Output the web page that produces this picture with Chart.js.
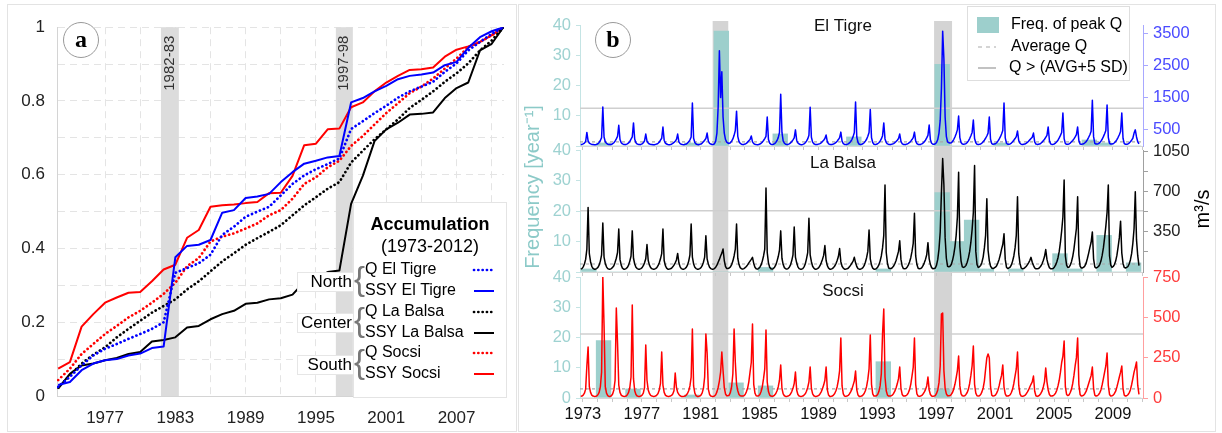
<!DOCTYPE html>
<html>
<head>
<meta charset="utf-8">
<title>Accumulation and peak discharge</title>
<script src="https://cdn.jsdelivr.net/npm/chart.js@4.4.1/dist/chart.umd.min.js"></script>
<style>
	body { margin: 0; background: #fff; }
	#page { position: relative; width: 1222px; height: 433px; overflow: hidden; }
	.frame { position: absolute; border: 1.5px solid #e3e3e3; box-sizing: border-box; }
	canvas { position: absolute; }
</style>
</head>
<body>
<div id="page">
	<div class="frame" style="left:7px;top:4px;width:510px;height:428px"></div>
	<div class="frame" style="left:518px;top:4px;width:698px;height:428px"></div>
	<canvas id="accChart" width="507" height="425" style="left:8px;top:5px"></canvas>
	<canvas id="tigreChart" width="693" height="423" style="left:520px;top:5px"></canvas>
	<canvas id="balsaChart" width="693" height="423" style="left:520px;top:5px"></canvas>
	<canvas id="socsiChart" width="693" height="423" style="left:520px;top:5px"></canvas>
</div>
<script>
/* global Chart */
( function () {
	'use strict';

	// Panel a: normalised accumulation, one value per year
	const accYears = [ 1973, 1974, 1975, 1976, 1977, 1978, 1979, 1980, 1981, 1982, 1983, 1984, 1985, 1986, 1987, 1988, 1989, 1990, 1991, 1992, 1993, 1994, 1995, 1996, 1997, 1998, 1999, 2000, 2001, 2002, 2003, 2004, 2005, 2006, 2007, 2008, 2009, 2010, 2011 ];
	const qTigre = [ 0.025, 0.052, 0.083, 0.11, 0.128, 0.141, 0.155, 0.168, 0.182, 0.2, 0.334, 0.347, 0.36, 0.383, 0.437, 0.459, 0.486, 0.5, 0.513, 0.544, 0.575, 0.598, 0.615, 0.629, 0.644, 0.724, 0.745, 0.767, 0.787, 0.809, 0.826, 0.839, 0.852, 0.879, 0.902, 0.937, 0.96, 0.982, 1 ];
	const ssyTigre = [ 0.03, 0.038, 0.07, 0.088, 0.097, 0.1, 0.11, 0.115, 0.13, 0.134, 0.376, 0.407, 0.41, 0.423, 0.497, 0.504, 0.537, 0.541, 0.548, 0.58, 0.607, 0.63, 0.638, 0.647, 0.651, 0.796, 0.808, 0.826, 0.841, 0.859, 0.868, 0.872, 0.877, 0.897, 0.906, 0.944, 0.973, 0.989, 1 ];
	const qBalsa = [ 0.023, 0.056, 0.088, 0.112, 0.132, 0.159, 0.182, 0.204, 0.226, 0.244, 0.262, 0.289, 0.311, 0.338, 0.365, 0.387, 0.41, 0.428, 0.445, 0.463, 0.49, 0.517, 0.539, 0.562, 0.58, 0.633, 0.665, 0.696, 0.723, 0.75, 0.781, 0.803, 0.826, 0.852, 0.875, 0.902, 0.937, 0.964, 1 ];
	const ssyBalsa = [ 0.02, 0.06, 0.083, 0.088, 0.097, 0.103, 0.114, 0.119, 0.148, 0.152, 0.159, 0.186, 0.19, 0.208, 0.222, 0.231, 0.25, 0.253, 0.262, 0.265, 0.275, 0.309, 0.32, 0.336, 0.34, 0.521, 0.597, 0.691, 0.723, 0.741, 0.763, 0.765, 0.769, 0.808, 0.835, 0.85, 0.937, 0.955, 1 ];
	const qSocsi = [ 0.043, 0.074, 0.114, 0.141, 0.168, 0.19, 0.213, 0.231, 0.253, 0.277, 0.307, 0.352, 0.374, 0.419, 0.432, 0.441, 0.454, 0.468, 0.49, 0.504, 0.535, 0.575, 0.593, 0.62, 0.638, 0.678, 0.705, 0.736, 0.767, 0.794, 0.821, 0.839, 0.861, 0.888, 0.915, 0.946, 0.96, 0.978, 1 ];
	const ssySocsi = [ 0.074, 0.092, 0.188, 0.222, 0.253, 0.267, 0.28, 0.282, 0.311, 0.343, 0.356, 0.429, 0.45, 0.513, 0.517, 0.519, 0.523, 0.526, 0.55, 0.551, 0.597, 0.68, 0.684, 0.723, 0.725, 0.783, 0.796, 0.826, 0.85, 0.868, 0.884, 0.886, 0.891, 0.92, 0.939, 0.948, 0.96, 0.978, 1 ];
	const accGridYears = [ 1977, 1980, 1983, 1986, 1989, 1992, 1995, 1998, 2001, 2004, 2007, 2010 ];
	const accLabelYears = [ 1977, 1983, 1989, 1995, 2001, 2007 ];
	const accYTicks = [ 0, 0.1, 0.2, 0.3, 0.4, 0.5, 0.6, 0.7, 0.8, 0.9, 1 ];
	const accYLabels = [ 0, 0.2, 0.4, 0.6, 0.8, 1 ];
	const accBands = [ [ 1981.77, 1983.3 ], [ 1996.7, 1998.15 ] ];
	const accBandLabels = [ '1982-83', '1997-98' ];

	// Panel b: hydrological years, frequency of peak Q (year^-1)
	const hydroYears = [ 1973, 1974, 1975, 1976, 1977, 1978, 1979, 1980, 1981, 1982, 1983, 1984, 1985, 1986, 1987, 1988, 1989, 1990, 1991, 1992, 1993, 1994, 1995, 1996, 1997, 1998, 1999, 2000, 2001, 2002, 2003, 2004, 2005, 2006, 2007, 2008, 2009, 2010 ];
	const freqTigre = [ 0, 1, 0, 0, 0, 0, 0, 1, 0, 38, 0, 0, 0, 4, 0, 0, 0, 0, 3, 0, 0, 0, 0, 0, 27, 0, 0, 0, 1, 0, 0, 0, 0, 0, 2, 1, 0, 0 ];
	const freqBalsa = [ 1, 0, 0, 0, 0, 0, 0, 0, 0, 0, 0, 0, 1.5, 0, 0, 0, 0, 0, 0, 0, 1, 0, 0, 0, 26, 10, 17, 1, 0, 1, 0, 0, 6, 1, 0, 12, 0, 3 ];
	const freqSocsi = [ 0, 19, 0, 3, 0, 0, 0, 1, 0, 0, 5, 0, 4, 0, 0, 0, 0, 0, 0, 0, 12, 0, 0, 0, 3, 0, 0, 0, 0, 0, 0, 0, 0, 0, 0, 0, 0, 0 ];

	// Monthly discharge (m3/s), one row per hydrological year
	const flowTigre = [
		[ 45, 50, 65, 90, 140, 420, 160, 90, 65, 50, 45, 40 ],
		[ 40, 50, 70, 110, 170, 260, 1210, 280, 130, 80, 55, 45 ],
		[ 45, 50, 70, 100, 150, 220, 300, 640, 200, 100, 65, 50 ],
		[ 45, 50, 65, 95, 140, 210, 280, 715, 210, 100, 60, 50 ],
		[ 45, 50, 65, 100, 160, 370, 150, 90, 60, 50, 45, 40 ],
		[ 40, 50, 60, 85, 120, 180, 240, 590, 180, 90, 60, 45 ],
		[ 40, 45, 55, 80, 110, 150, 200, 370, 130, 75, 55, 45 ],
		[ 40, 50, 60, 90, 130, 190, 280, 1330, 240, 110, 60, 45 ],
		[ 40, 50, 60, 90, 130, 180, 230, 400, 150, 85, 60, 45 ],
		[ 50, 70, 150, 400, 1200, 2950, 1500, 2300, 900, 400, 200, 120 ],
		[ 90, 80, 100, 150, 220, 330, 480, 1080, 300, 140, 80, 55 ],
		[ 45, 50, 60, 80, 120, 160, 200, 310, 130, 75, 55, 45 ],
		[ 40, 45, 60, 85, 120, 170, 230, 300, 900, 200, 90, 55 ],
		[ 45, 55, 75, 110, 170, 260, 420, 1600, 420, 160, 85, 55 ],
		[ 45, 50, 65, 95, 140, 190, 250, 500, 180, 95, 60, 45 ],
		[ 40, 50, 65, 100, 150, 220, 330, 1200, 270, 120, 70, 50 ],
		[ 45, 50, 60, 75, 100, 140, 180, 230, 340, 130, 65, 50 ],
		[ 45, 50, 60, 80, 110, 150, 200, 260, 430, 150, 75, 50 ],
		[ 45, 50, 65, 95, 140, 200, 290, 420, 1365, 280, 110, 55 ],
		[ 45, 55, 70, 100, 150, 210, 300, 420, 1130, 260, 110, 55 ],
		[ 50, 55, 70, 100, 150, 220, 320, 715, 220, 110, 65, 50 ],
		[ 45, 50, 60, 75, 105, 140, 180, 230, 370, 140, 70, 50 ],
		[ 45, 50, 60, 80, 110, 150, 200, 260, 430, 150, 75, 50 ],
		[ 45, 50, 65, 90, 130, 180, 250, 330, 650, 190, 85, 55 ],
		[ 55, 70, 110, 200, 400, 800, 1800, 3560, 2700, 900, 300, 130 ],
		[ 100, 90, 100, 140, 200, 280, 380, 500, 930, 260, 110, 60 ],
		[ 55, 60, 75, 110, 160, 230, 320, 420, 805, 230, 100, 55 ],
		[ 50, 55, 65, 90, 130, 180, 240, 310, 400, 900, 210, 75 ],
		[ 55, 60, 70, 100, 150, 210, 280, 370, 480, 1330, 250, 85 ],
		[ 55, 55, 65, 90, 130, 180, 230, 290, 465, 170, 85, 55 ],
		[ 50, 55, 60, 80, 110, 150, 190, 230, 270, 400, 130, 60 ],
		[ 50, 55, 60, 85, 120, 160, 210, 270, 330, 590, 170, 65 ],
		[ 50, 55, 65, 90, 130, 180, 250, 330, 420, 1020, 230, 75 ],
		[ 55, 55, 65, 90, 130, 170, 220, 280, 350, 590, 170, 65 ],
		[ 55, 60, 70, 100, 140, 200, 270, 350, 460, 1420, 290, 85 ],
		[ 60, 60, 75, 105, 150, 210, 290, 380, 480, 1270, 270, 85 ],
		[ 60, 60, 70, 100, 140, 200, 270, 350, 450, 1020, 240, 75 ],
		[ 55, 55, 65, 90, 130, 180, 240, 400, 500, 280, 130, 65 ],
	];
	const flowBalsa = [
		[ 25, 30, 45, 70, 110, 200, 564, 160, 90, 50, 32, 25 ],
		[ 25, 30, 40, 60, 95, 150, 427, 130, 75, 45, 30, 25 ],
		[ 25, 30, 40, 55, 85, 120, 170, 376, 110, 60, 33, 25 ],
		[ 25, 30, 40, 60, 95, 140, 359, 120, 70, 42, 30, 25 ],
		[ 25, 30, 38, 55, 80, 115, 239, 100, 60, 38, 28, 25 ],
		[ 25, 30, 38, 55, 80, 115, 160, 376, 100, 55, 33, 25 ],
		[ 25, 28, 33, 45, 60, 80, 105, 162, 80, 45, 30, 25 ],
		[ 25, 30, 40, 60, 95, 150, 418, 130, 70, 42, 30, 25 ],
		[ 25, 30, 38, 55, 85, 130, 316, 115, 70, 42, 30, 25 ],
		[ 25, 30, 42, 60, 85, 110, 140, 165, 200, 100, 48, 30 ],
		[ 30, 35, 45, 65, 95, 140, 200, 418, 120, 65, 38, 28 ],
		[ 25, 30, 38, 48, 62, 80, 95, 110, 128, 75, 42, 28 ],
		[ 25, 30, 42, 62, 95, 140, 200, 734, 170, 80, 42, 28 ],
		[ 25, 30, 42, 62, 95, 135, 190, 359, 120, 65, 38, 28 ],
		[ 25, 30, 42, 62, 100, 150, 393, 130, 80, 45, 30, 25 ],
		[ 25, 30, 45, 70, 115, 170, 470, 150, 90, 50, 33, 25 ],
		[ 25, 30, 38, 55, 80, 110, 145, 231, 100, 55, 33, 25 ],
		[ 25, 30, 38, 52, 72, 100, 135, 205, 90, 50, 33, 25 ],
		[ 25, 28, 33, 45, 60, 78, 95, 128, 80, 48, 30, 25 ],
		[ 25, 30, 38, 55, 85, 125, 180, 367, 115, 60, 33, 25 ],
		[ 25, 30, 42, 62, 95, 140, 210, 320, 760, 170, 75, 35 ],
		[ 30, 30, 38, 52, 72, 100, 140, 180, 273, 110, 52, 30 ],
		[ 28, 30, 42, 60, 88, 125, 180, 250, 512, 140, 65, 33 ],
		[ 28, 30, 38, 55, 80, 110, 150, 256, 115, 65, 38, 28 ],
		[ 30, 35, 60, 110, 200, 350, 700, 990, 760, 300, 120, 50 ],
		[ 45, 50, 65, 100, 150, 220, 320, 480, 871, 220, 95, 45 ],
		[ 40, 45, 58, 85, 125, 180, 260, 370, 520, 930, 180, 65 ],
		[ 40, 45, 58, 85, 130, 210, 320, 640, 190, 100, 52, 35 ],
		[ 30, 35, 42, 55, 80, 110, 150, 200, 240, 333, 110, 42 ],
		[ 30, 35, 42, 62, 95, 140, 210, 320, 657, 160, 75, 35 ],
		[ 28, 30, 38, 48, 62, 80, 100, 128, 85, 58, 35, 28 ],
		[ 28, 30, 38, 52, 72, 100, 135, 196, 110, 65, 38, 28 ],
		[ 28, 30, 42, 60, 88, 125, 180, 260, 360, 480, 803, 140 ],
		[ 60, 40, 42, 60, 90, 135, 200, 290, 380, 657, 150, 52 ],
		[ 35, 35, 42, 55, 80, 120, 165, 215, 260, 350, 115, 45 ],
		[ 35, 40, 48, 65, 95, 145, 210, 300, 400, 520, 760, 140 ],
		[ 60, 40, 48, 65, 95, 145, 220, 300, 444, 165, 75, 40 ],
		[ 35, 40, 48, 70, 105, 160, 250, 380, 700, 280, 140, 55 ],
	];
	const flowSocsi = [
		[ 10, 12, 18, 30, 55, 200, 316, 70, 35, 18, 12, 10 ],
		[ 10, 12, 20, 35, 70, 160, 750, 450, 70, 30, 15, 10 ],
		[ 10, 14, 25, 50, 110, 558, 340, 80, 35, 18, 12, 10 ],
		[ 10, 12, 20, 35, 65, 130, 577, 120, 45, 22, 12, 10 ],
		[ 10, 12, 18, 30, 65, 329, 110, 50, 28, 16, 12, 10 ],
		[ 10, 12, 18, 28, 50, 90, 285, 80, 35, 18, 12, 10 ],
		[ 10, 12, 16, 25, 45, 155, 65, 35, 22, 14, 10, 10 ],
		[ 10, 12, 18, 28, 45, 75, 130, 428, 75, 30, 15, 10 ],
		[ 10, 12, 18, 32, 60, 130, 397, 280, 55, 22, 12, 10 ],
		[ 10, 12, 20, 38, 65, 105, 160, 285, 170, 65, 25, 14 ],
		[ 14, 18, 35, 70, 150, 428, 220, 85, 45, 22, 14, 12 ],
		[ 12, 14, 22, 38, 60, 100, 160, 220, 459, 85, 30, 14 ],
		[ 12, 14, 22, 40, 70, 120, 180, 422, 100, 40, 18, 12 ],
		[ 10, 12, 18, 28, 45, 70, 110, 205, 60, 26, 14, 10 ],
		[ 10, 12, 16, 25, 40, 60, 90, 161, 50, 22, 12, 10 ],
		[ 10, 12, 18, 26, 42, 65, 100, 192, 60, 26, 14, 10 ],
		[ 10, 12, 16, 25, 38, 58, 80, 110, 192, 50, 18, 10 ],
		[ 10, 12, 18, 28, 45, 70, 110, 170, 372, 75, 26, 12 ],
		[ 10, 12, 16, 25, 38, 55, 80, 105, 167, 50, 18, 10 ],
		[ 10, 12, 18, 28, 45, 72, 115, 180, 391, 85, 26, 12 ],
		[ 12, 14, 22, 40, 75, 150, 400, 552, 130, 45, 18, 12 ],
		[ 12, 14, 18, 28, 42, 62, 88, 120, 192, 60, 22, 12 ],
		[ 12, 14, 20, 32, 52, 85, 135, 190, 372, 85, 26, 12 ],
		[ 10, 12, 16, 25, 36, 52, 75, 130, 50, 22, 12, 10 ],
		[ 12, 15, 28, 50, 95, 200, 520, 527, 170, 60, 26, 14 ],
		[ 14, 15, 22, 34, 55, 85, 125, 170, 260, 75, 26, 14 ],
		[ 12, 14, 22, 34, 55, 90, 140, 200, 322, 85, 30, 14 ],
		[ 12, 14, 22, 38, 62, 105, 180, 250, 273, 250, 70, 18 ],
		[ 12, 14, 18, 30, 48, 75, 110, 140, 205, 68, 26, 12 ],
		[ 12, 14, 20, 34, 55, 90, 135, 180, 285, 78, 26, 12 ],
		[ 10, 12, 16, 25, 36, 50, 68, 85, 100, 136, 42, 14 ],
		[ 10, 12, 18, 28, 42, 68, 100, 186, 100, 50, 22, 12 ],
		[ 12, 14, 20, 30, 48, 75, 110, 160, 220, 260, 353, 70 ],
		[ 22, 15, 20, 34, 55, 90, 140, 200, 250, 372, 85, 22 ],
		[ 12, 14, 18, 28, 42, 65, 90, 115, 140, 192, 60, 18 ],
		[ 12, 14, 20, 32, 50, 82, 120, 160, 200, 279, 78, 22 ],
		[ 12, 14, 18, 28, 42, 68, 98, 130, 160, 198, 60, 18 ],
		[ 12, 14, 20, 32, 50, 82, 120, 160, 190, 223, 78, 22 ],
	];

	// Reference levels per station: El Tigre, La Balsa, Socsi
	const avgQ = [ 130, 70, 56 ];
	const peakLimitQ = [ 1170, 535, 397 ];

	const yearTicks = [ 1973, 1974, 1975, 1976, 1977, 1978, 1979, 1980, 1981, 1982, 1983, 1984, 1985, 1986, 1987, 1988, 1989, 1990, 1991, 1992, 1993, 1994, 1995, 1996, 1997, 1998, 1999, 2000, 2001, 2002, 2003, 2004, 2005, 2006, 2007, 2008, 2009, 2010, 2011 ];
	const yearLabels = [ 1973, 1977, 1981, 1985, 1989, 1993, 1997, 2001, 2005, 2009 ];
	const freqTicks = [ 0, 5, 10, 15, 20, 25, 30, 35, 40 ];
	const tigreQTicks = [ 500, 1000, 1500, 2000, 2500, 3000, 3500 ];
	const tigreQLabels = [ 500, 1500, 2500, 3500 ];
	const balsaQTicks = [ 175, 350, 525, 700, 875, 1050 ];
	const balsaQLabels = [ 350, 700, 1050 ];
	const socsiQTicks = [ 0, 125, 250, 375, 500, 625, 750 ];
	const socsiQLabels = [ 0, 250, 500, 750 ];
	const bBands = [ [ 1981.81, 1982.87 ], [ 1996.85, 1998.07 ] ];

	const FONT = '"Liberation Sans", Arial, sans-serif';
	Chart.defaults.font.family = FONT;
	Chart.defaults.font.size = 16;
	Chart.defaults.color = '#222';
	Chart.defaults.animation = false;
	Chart.defaults.responsive = false;
	Chart.defaults.events = [];
	Chart.defaults.plugins.legend.display = false;
	Chart.defaults.plugins.tooltip.enabled = false;

	function circleLabel( ctx, x, y, text ) {
		ctx.save();
		ctx.beginPath();
		ctx.arc( x, y, 17.5, 0, Math.PI * 2 );
		ctx.fillStyle = '#fff';
		ctx.fill();
		ctx.strokeStyle = '#999';
		ctx.lineWidth = 1;
		ctx.stroke();
		ctx.fillStyle = '#000';
		ctx.font = 'bold 24px "Liberation Serif", "Times New Roman", serif';
		ctx.textAlign = 'center';
		ctx.textBaseline = 'middle';
		ctx.fillText( text, x, y + 1 );
		ctx.restore();
	}

	// Accumulation chart (panel a)
	const accSeries = [
		{ label: 'Q El Tigre', values: qTigre, color: '#0000ff', dotted: true },
		{ label: 'SSY El Tigre', values: ssyTigre, color: '#0000ff', dotted: false },
		{ label: 'Q La Balsa', values: qBalsa, color: '#000000', dotted: true },
		{ label: 'SSY La Balsa', values: ssyBalsa, color: '#000000', dotted: false },
		{ label: 'Q Socsi', values: qSocsi, color: '#ff0000', dotted: true },
		{ label: 'SSY Socsi', values: ssySocsi, color: '#ff0000', dotted: false },
	];

	const accBandsPlugin = {
		id: 'accBands',
		beforeDatasetsDraw( chart ) {
			const { ctx, chartArea, scales } = chart;
			ctx.save();
			accBands.forEach( ( band, i ) => {
				const x0 = scales.x.getPixelForValue( band[ 0 ] );
				const x1 = scales.x.getPixelForValue( band[ 1 ] );
				ctx.fillStyle = '#dcdcdc';
				ctx.fillRect( x0, chartArea.top, x1 - x0, chartArea.bottom - chartArea.top );
				ctx.save();
				ctx.translate( ( x0 + x1 ) / 2, chartArea.top + 36 );
				ctx.rotate( -Math.PI / 2 );
				ctx.fillStyle = '#333';
				ctx.font = '15px ' + FONT;
				ctx.textAlign = 'center';
				ctx.textBaseline = 'middle';
				ctx.fillText( accBandLabels[ i ], 0, 0 );
				ctx.restore();
			} );
			ctx.restore();
		},
	};

	const accLegendPlugin = {
		id: 'accLegend',
		afterDatasetsDraw( chart ) {
			const ctx = chart.ctx;
			ctx.save();
			ctx.fillStyle = '#fff';
			ctx.strokeStyle = '#e4e4e4';
			ctx.lineWidth = 1;
			ctx.fillRect( 345, 197, 153, 195 );
			ctx.strokeRect( 345.5, 197.5, 153, 195 );

			ctx.fillStyle = '#000';
			ctx.textAlign = 'center';
			ctx.textBaseline = 'middle';
			ctx.font = 'bold 18px ' + FONT;
			ctx.fillText( 'Accumulation', 422, 220 );
			ctx.font = '18px ' + FONT;
			ctx.fillText( '(1973-2012)', 422, 242 );

			// group labels with braces
			const groups = [ [ 'North', 267 ], [ 'Center', 308 ], [ 'South', 350 ] ];
			groups.forEach( ( g ) => {
				ctx.fillStyle = '#fff';
				ctx.strokeStyle = '#e6e6e6';
				ctx.fillRect( 289, g[ 1 ], 56, 19 );
				ctx.strokeRect( 289.5, g[ 1 ] + 0.5, 56, 19 );
				ctx.fillStyle = '#000';
				ctx.font = '17px ' + FONT;
				ctx.textAlign = 'right';
				ctx.fillText( g[ 0 ], 344, g[ 1 ] + 10 );
				ctx.fillStyle = '#777';
				ctx.font = '33px ' + FONT;
				ctx.textAlign = 'left';
				ctx.fillText( '{', 346, g[ 1 ] + 9 );
			} );

			// series rows
			const rowsY = [ 265, 286, 307, 328, 348, 369 ];
			chart.data.datasets.forEach( ( ds, i ) => {
				ctx.fillStyle = '#000';
				ctx.font = '16px ' + FONT;
				ctx.textAlign = 'left';
				ctx.fillText( ds.label, 357, rowsY[ i ] );
				ctx.beginPath();
				ctx.strokeStyle = ds.borderColor;
				ctx.lineWidth = ds.borderWidth;
				ctx.lineCap = ds.borderCapStyle;
				ctx.setLineDash( ds.borderDash );
				ctx.moveTo( 466, rowsY[ i ] );
				ctx.lineTo( 486, rowsY[ i ] );
				ctx.stroke();
				ctx.setLineDash( [] );
			} );
			ctx.restore();
			circleLabel( ctx, 73, 35, 'a' );
		},
	};

	function initAccumulationChart() {
		const ctx = document.getElementById( 'accChart' ).getContext( '2d' );
		new Chart( ctx, {
			type: 'line',
			data: {
				datasets: accSeries.map( ( s ) => ( {
					label: s.label,
					data: accYears.map( ( year, i ) => ( { x: year, y: s.values[ i ] } ) ),
					borderColor: s.color,
					borderWidth: s.dotted ? 2.7 : 2,
					borderDash: s.dotted ? [ 0.1, 4.2 ] : [],
					borderCapStyle: s.dotted ? 'round' : 'butt',
					borderJoinStyle: 'round',
					pointRadius: 0,
					tension: 0,
					fill: false,
				} ) ),
			},
			options: {
				layout: { padding: { top: 18, right: 11, bottom: 0, left: 0 } },
				scales: {
					x: {
						type: 'linear',
						min: 1972.9,
						max: 2011.05,
						afterBuildTicks: ( scale ) => {
							scale.ticks = accGridYears.map( ( v ) => ( { value: v } ) );
						},
						afterFit: ( scale ) => {
							scale.height = 34;
						},
						ticks: {
							callback: ( v ) => ( accLabelYears.includes( v ) ? String( v ) : '' ),
							font: { size: 17 },
							color: '#222',
							padding: 12,
							maxRotation: 0,
							autoSkip: false,
						},
						grid: { color: '#e4e4e4', drawTicks: false },
						border: { color: '#d4d4d4', dash: [ 7, 5 ] },
					},
					y: {
						min: 0,
						max: 1,
						afterBuildTicks: ( scale ) => {
							scale.ticks = accYTicks.map( ( v ) => ( { value: v } ) );
						},
						afterFit: ( scale ) => {
							scale.width = 49;
						},
						ticks: {
							callback: ( v ) =>
								accYLabels.some( ( l ) => Math.abs( l - v ) < 1e-6 ) ? String( +v.toFixed( 1 ) ) : '',
							font: { size: 17 },
							color: '#222',
							padding: 12,
						},
						grid: { color: '#e4e4e4', drawTicks: false },
						border: { color: '#d4d4d4', dash: [ 7, 5 ] },
					},
				},
			},
			plugins: [ accBandsPlugin, accLegendPlugin ],
		} );
	}

	// Bands across the three stacked plots, drawn in the lowest canvas
	const bBandsPlugin = {
		id: 'bBands',
		beforeDatasetsDraw( chart ) {
			const { ctx, scales } = chart;
			ctx.save();
			ctx.fillStyle = '#d4d4d4';
			bBands.forEach( ( band ) => {
				const x0 = scales.x.getPixelForValue( band[ 0 ] );
				const x1 = scales.x.getPixelForValue( band[ 1 ] );
				ctx.fillRect( x0, 16, x1 - x0, 377 );
			} );
			ctx.restore();
		},
	};

	// Texts and legend of panel b, drawn in the top canvas
	const bOverlayPlugin = {
		id: 'bOverlay',
		afterDraw( chart ) {
			const ctx = chart.ctx;
			ctx.save();
			ctx.textBaseline = 'middle';

			ctx.save();
			ctx.translate( 13, 182 );
			ctx.rotate( -Math.PI / 2 );
			ctx.fillStyle = '#8ccac8';
			ctx.font = '20px ' + FONT;
			ctx.textAlign = 'center';
			ctx.fillText( 'Frequency [year⁻¹]', 0, 0 );
			ctx.restore();

			ctx.save();
			ctx.translate( 683, 204 );
			ctx.rotate( -Math.PI / 2 );
			ctx.fillStyle = '#000';
			ctx.font = '20px ' + FONT;
			ctx.textAlign = 'center';
			ctx.fillText( 'm³/s', 0, 0 );
			ctx.restore();

			// legend
			ctx.fillStyle = '#fff';
			ctx.strokeStyle = '#dedede';
			ctx.lineWidth = 1;
			ctx.fillRect( 447, 1, 162, 74 );
			ctx.strokeRect( 447.5, 1.5, 162, 74 );
			ctx.fillStyle = '#9dcfcc';
			ctx.fillRect( 457, 12, 22, 16 );
			ctx.strokeStyle = '#aaa';
			ctx.lineWidth = 1.2;
			ctx.setLineDash( [ 4, 4 ] );
			ctx.beginPath();
			ctx.moveTo( 458, 42 );
			ctx.lineTo( 476, 42 );
			ctx.stroke();
			ctx.setLineDash( [] );
			ctx.strokeStyle = '#999';
			ctx.beginPath();
			ctx.moveTo( 458, 63 );
			ctx.lineTo( 476, 63 );
			ctx.stroke();
			ctx.fillStyle = '#000';
			ctx.font = '16px ' + FONT;
			ctx.textAlign = 'left';
			ctx.fillText( 'Freq. of peak Q', 491, 20 );
			ctx.fillText( 'Average Q', 491, 42 );
			ctx.fillText( 'Q > (AVG+5 SD)', 489, 63 );
			ctx.restore();
			circleLabel( ctx, 93, 35, 'b' );
		},
	};

	function initStationChart( id, station ) {
		const ctx = document.getElementById( id ).getContext( '2d' );
		const xMin = 1972.8;
		const xMax = 2011.04;

		const flowPoints = [];
		station.flow.forEach( ( row, i ) => {
			row.forEach( ( q, m ) => {
				flowPoints.push( { x: hydroYears[ i ] - 0.15 + m / 12, y: q } );
			} );
		} );

		const titlePlugin = {
			id: 'stationTitle',
			afterDraw( chart ) {
				chart.ctx.save();
				chart.ctx.fillStyle = '#111';
				chart.ctx.font = '17px ' + FONT;
				chart.ctx.textAlign = 'center';
				chart.ctx.textBaseline = 'middle';
				chart.ctx.fillText( station.title, 323, station.titleY );
				chart.ctx.restore();
			},
		};

		const plugins = [ titlePlugin ];
		if ( station.bands ) {
			plugins.push( bBandsPlugin );
		}
		if ( station.overlay ) {
			plugins.push( bOverlayPlugin );
		}

		new Chart( ctx, {
			type: 'bar',
			data: {
				datasets: [
					{
						type: 'line',
						data: flowPoints,
						yAxisID: 'yQ',
						borderColor: station.color,
						borderWidth: 1.5,
						borderJoinStyle: 'round',
						pointRadius: 0,
						tension: 0,
						order: 1,
					},
					{
						type: 'line',
						data: [ { x: xMin, y: station.avg }, { x: xMax, y: station.avg } ],
						yAxisID: 'yQ',
						borderColor: '#a8a8a8',
						borderWidth: 1.2,
						borderDash: [ 3, 3 ],
						pointRadius: 0,
						order: 2,
					},
					{
						type: 'line',
						data: [ { x: xMin, y: station.limit }, { x: xMax, y: station.limit } ],
						yAxisID: 'yQ',
						borderColor: '#cfcfcf',
						borderWidth: 1.5,
						pointRadius: 0,
						order: 3,
					},
					{
						type: 'bar',
						data: hydroYears.map( ( year, i ) => ( { x: year + 0.4, y: station.freq[ i ] } ) ),
						yAxisID: 'yF',
						backgroundColor: '#9dcfcc',
						barPercentage: 1,
						categoryPercentage: 1,
						order: 4,
					},
				],
			},
			options: {
				layout: { padding: { top: station.padTop, bottom: station.padBottom, left: 0, right: 0 } },
				scales: {
					x: {
						type: 'linear',
						min: xMin,
						max: xMax,
						offset: false,
						afterBuildTicks: ( scale ) => {
							scale.ticks = yearTicks.map( ( v ) => ( { value: v } ) );
						},
						afterFit: ( scale ) => {
							scale.height = station.showYears ? 30 : 4;
						},
						ticks: {
							display: station.showYears,
							callback: ( v ) => ( yearLabels.includes( v ) ? String( v ) : '' ),
							maxRotation: 0,
							autoSkip: false,
							padding: 3,
							font: { size: 16.5 },
							color: '#111',
						},
						grid: { drawOnChartArea: false, offset: false, tickLength: 4, color: '#c8c8c8' },
						border: { color: '#d6d6d6' },
					},
					yF: {
						position: 'left',
						min: 0,
						max: 40,
						afterBuildTicks: ( scale ) => {
							scale.ticks = freqTicks.map( ( v ) => ( { value: v } ) );
						},
						afterFit: ( scale ) => {
							scale.width = 60;
						},
						ticks: {
							callback: ( v ) => ( v % 10 === 0 && ( station.showZero || v > 0 ) ? String( v ) : '' ),
							color: '#9ed2d1',
							font: { size: 16.5 },
							padding: 5,
						},
						grid: { drawOnChartArea: false, tickLength: 4, color: '#c4e4e4' },
						border: { color: '#c4e4e4' },
					},
					yQ: {
						position: 'right',
						min: 0,
						max: station.qMax,
						afterBuildTicks: ( scale ) => {
							scale.ticks = station.qTicks.map( ( v ) => ( { value: v } ) );
						},
						afterFit: ( scale ) => {
							scale.width = 70;
						},
						ticks: {
							callback: ( v ) => ( station.qLabels.includes( v ) ? String( v ) : '' ),
							color: station.tickColor,
							font: { size: 16.5 },
							padding: 5,
						},
						grid: { drawOnChartArea: false, tickLength: 5, color: station.axisColor },
						border: { color: station.axisColor },
					},
				},
			},
			plugins: plugins,
		} );
	}

	initAccumulationChart();

	initStationChart( 'tigreChart', {
		title: 'El Tigre',
		titleY: 21,
		flow: flowTigre,
		freq: freqTigre,
		avg: avgQ[ 0 ],
		limit: peakLimitQ[ 0 ],
		qMax: 3750,
		qTicks: tigreQTicks,
		qLabels: tigreQLabels,
		color: '#0000ff',
		tickColor: '#4a4aff',
		axisColor: '#a8a8ff',
		padTop: 20,
		padBottom: 278,
		showYears: false,
		showZero: false,
		bands: true,
		overlay: false,
	} );

	initStationChart( 'balsaChart', {
		title: 'La Balsa',
		titleY: 158,
		flow: flowBalsa,
		freq: freqBalsa,
		avg: avgQ[ 1 ],
		limit: peakLimitQ[ 1 ],
		qMax: 1065,
		qTicks: balsaQTicks,
		qLabels: balsaQLabels,
		color: '#000000',
		tickColor: '#222',
		axisColor: '#a0a0a0',
		padTop: 145,
		padBottom: 152,
		showYears: false,
		showZero: false,
		bands: false,
		overlay: false,
	} );

	initStationChart( 'socsiChart', {
		title: 'Socsi',
		titleY: 286,
		flow: flowSocsi,
		freq: freqSocsi,
		avg: avgQ[ 2 ],
		limit: peakLimitQ[ 2 ],
		qMax: 750,
		qTicks: socsiQTicks,
		qLabels: socsiQLabels,
		color: '#ff0000',
		tickColor: '#ff3b3b',
		axisColor: '#ff9f9f',
		padTop: 272,
		padBottom: 0,
		showYears: true,
		showZero: true,
		bands: false,
		overlay: true,
	} );
} )();
</script>
</body>
</html>
